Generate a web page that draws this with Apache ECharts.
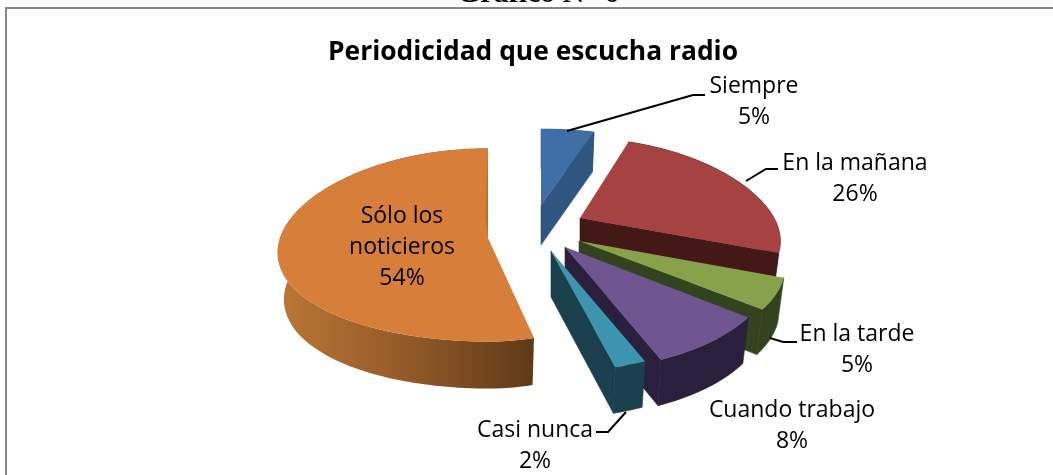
<!DOCTYPE html>
<html>
<head>
<meta charset="utf-8">
<style>
  html, body { margin: 0; padding: 0; background: #fff; overflow: hidden; }
  #chart { width: 1053px; height: 475px; }
</style>
<script src="https://cdn.jsdelivr.net/npm/echarts@6/dist/echarts.min.js"></script>
</head>
<body>
<div id="chart"></div>
<script>
const categories = ["Siempre", "En la mañana", "En la tarde", "Cuando trabajo", "Casi nunca", "Sólo los\nnoticieros"]
const values = [5, 26, 5, 8, 2, 54]
const topColors = ["#3f6ea6", "#a44341", "#87a24b", "#6f5590", "#3c94af", "#d77e3b"]
const sideColors = ["#2f5580", "#431817", "#33431f", "#2a1f3d", "#1a3f4d", "#b5712f"]

// each exploded slice has its own apex and its own ellipse radii
const sliceLayout = [
  { cx: 541, cy: 205, rxR: 212, rxL: 212, ryB: 95, ryF: 95, k: 0.25, depth: 40 },
  { cx: 580, cy: 218, rxR: 194, rxL: 194, ryB: 99.5, ryF: 80, k: 0.25, depth: 45 },
  { cx: 579, cy: 241, rxR: 200, rxL: 200, ryB: 90.5, ryF: 90.5, k: 0.25, depth: 45 },
  { cx: 565, cy: 247, rxR: 200, rxL: 200, ryB: 93, ryF: 93, k: 0.25, depth: 46 },
  { cx: 551, cy: 251, rxR: 196, rxL: 196, ryB: 91, ryF: 91, k: 0.25, depth: 46 },
  { cx: 488, cy: 238, rxR: 158, rxL: 208, ryB: 103, ryF: 88, k: 0.15, depth: 47 },
]
const labelLayout = [
  { x: 754, y: 102, line: [[567, 131], [693, 95], [705, 95]] },
  { x: 855, y: 179, line: [[746, 181], [766, 169], [778, 169]] },
  { x: 857, y: 350, line: [[770, 338], [783, 342], [797, 342]] },
  { x: 792, y: 426, line: null },
  { x: 535, y: 446, line: [[626, 412], [608, 432], [596, 432]] },
  { x: 402, y: 247, line: null },
]

const wallShrink = 0.97

function project(s, angle) {
  const sin = Math.sin(angle)
  const cos = Math.cos(angle)
  const scale = 1 / (1 + s.k * cos)
  const rx = sin >= 0 ? s.rxR : s.rxL
  const ry = s.ryF + ((s.ryB - s.ryF) * (1 + cos)) / 2
  return [s.cx + rx * sin * scale, s.cy - ry * cos * scale]
}

function lower(s, p) {
  return [s.cx + (p[0] - s.cx) * wallShrink, p[1] + s.depth]
}

const total = values.reduce((a, b) => a + b, 0)

function renderSlice(params, api) {
  const i = params.dataIndex
  const s = sliceLayout[i]
  let sum = 0
  for (let k = 0; k < i; k++) sum += values[k]
  const start = (sum / total) * Math.PI * 2
  const end = ((sum + api.value(0)) / total) * Math.PI * 2

  const arc = []
  const steps = Math.max(6, Math.round((end - start) * 40))
  for (let k = 0; k <= steps; k++) {
    arc.push(project(s, start + ((end - start) * k) / steps))
  }
  const apex = [s.cx, s.cy]
  const last = arc[arc.length - 1]
  const children = []

  // outer wall
  const wallFill = i === 5
    ? new echarts.graphic.LinearGradient(0, 0, 1, 0, [
        { offset: 0, color: "#bb7736" },
        { offset: 0.5, color: "#935a28" },
        { offset: 1, color: "#5e3a17" },
      ])
    : sideColors[i]
  children.push({
    type: "polygon",
    shape: { points: arc.concat(arc.map((p) => lower(s, p)).reverse()) },
    style: { fill: wallFill, stroke: i === 5 ? null : sideColors[i], lineWidth: 0.6 },
  })

  // cut face at the end of the slice
  if (i !== 5) {
    children.push({
      type: "polygon",
      shape: { points: [apex, last, lower(s, last), lower(s, apex)] },
      style: { fill: sideColors[i], stroke: sideColors[i], lineWidth: 0.6 },
    })
  }

  // top face
  children.push({
    type: "polygon",
    shape: { points: [apex].concat(arc) },
    style: { fill: topColors[i] },
  })

  // thin darker edge on the big slice
  if (i === 5) {
    children.push({
      type: "polygon",
      shape: { points: [last, [s.cx - 2.5, s.cy - 20], apex] },
      style: { fill: sideColors[i] },
    })
  }

  return { type: "group", children: children }
}

function renderLabel(params, api) {
  const i = params.dataIndex
  const l = labelLayout[i]
  const children = [{
    type: "text",
    style: {
      x: l.x,
      y: l.y,
      text: categories[i] + "\n" + api.value(0) + "%",
      font: "23px 'Open Sans'",
      lineHeight: 31,
      fill: "#000",
      align: "center",
      verticalAlign: "middle",
    },
  }]
  if (l.line) {
    children.push({
      type: "polyline",
      shape: { points: l.line },
      style: { stroke: "#000", lineWidth: 2, fill: null },
    })
  }
  return { type: "group", children: children }
}

const myChart = echarts.init(document.getElementById("chart"), null, { renderer: "canvas" })

const option = {
  backgroundColor: "#fff",
  animation: false,
  graphic: [
    {
      type: "rect",
      shape: { x: 6, y: 8, width: 1100, height: 520 },
      style: { fill: "#fff", stroke: "#868686", lineWidth: 2 },
      z: -1,
    },
    {
      type: "text",
      style: {
        x: 538,
        y: -6,
        text: "Gráfico N° 6",
        font: "bold 30px 'Liberation Serif'",
        fill: "#000",
        align: "center",
        verticalAlign: "middle",
      },
      z: 5,
    },
    {
      type: "text",
      style: {
        x: 533,
        y: 52,
        text: "Periodicidad que escucha radio",
        font: "bold 26.4px 'Open Sans'",
        fill: "#000",
        align: "center",
        verticalAlign: "middle",
      },
      z: 5,
    },
  ],
  series: [
    {
      type: "custom",
      coordinateSystem: "none",
      data: values,
      renderItem: renderSlice,
      silent: true,
      z: 2,
    },
    {
      type: "custom",
      coordinateSystem: "none",
      data: values,
      renderItem: renderLabel,
      silent: true,
      z: 3,
    },
  ],
}

option && myChart.setOption(option)
</script>
</body>
</html>
